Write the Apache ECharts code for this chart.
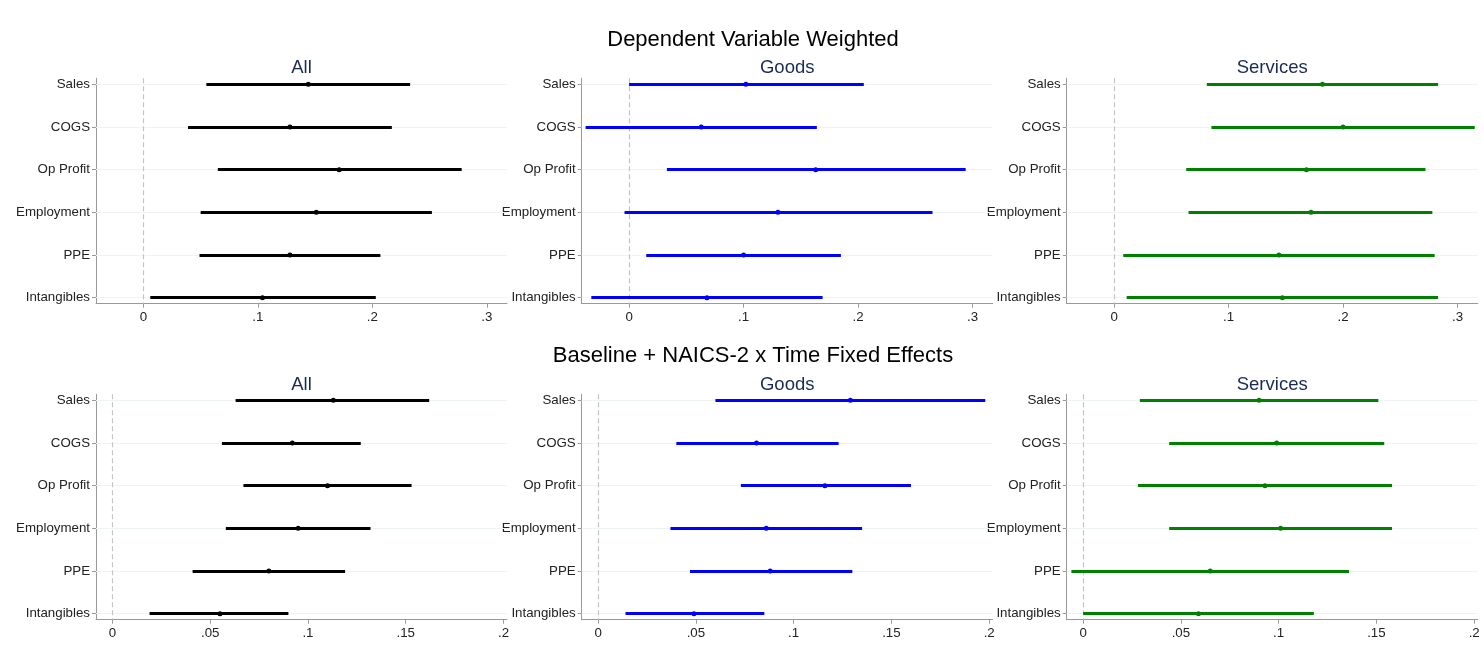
<!DOCTYPE html>
<html>
<head>
<meta charset="utf-8">
<title>coefficient plots</title>
<script src="https://cdn.jsdelivr.net/npm/echarts@6/dist/echarts.min.js"></script>
<style>
    html, body { margin: 0; padding: 0; background: #fff; }
    #chart { width: 1484px; height: 646px; }
</style>
</head>
<body>
<div id="chart"></div>
<script>
// outcome rows, top to bottom
var categories = ['Sales', 'COGS', 'Op Profit', 'Employment', 'PPE', 'Intangibles'];
var rowTitles = ['Dependent Variable Weighted', 'Baseline + NAICS-2 x Time Fixed Effects'];
var panelTitles = ['All', 'Goods', 'Services'];
var topTicks = [0, 0.1, 0.2, 0.3];
var bottomTicks = [0, 0.05, 0.1, 0.15, 0.2];

// row 1: dependent variable weighted
var wAllLo = [0.055, 0.039, 0.065, 0.050, 0.049, 0.006];
var wAllEst = [0.144, 0.128, 0.171, 0.151, 0.128, 0.104];
var wAllHi = [0.233, 0.217, 0.278, 0.252, 0.207, 0.203];

var wGoodsLo = [0.000, -0.038, 0.033, -0.004, 0.015, -0.033];
var wGoodsEst = [0.102, 0.063, 0.163, 0.130, 0.100, 0.068];
var wGoodsHi = [0.205, 0.164, 0.294, 0.265, 0.185, 0.169];

var wServLo = [0.081, 0.085, 0.063, 0.065, 0.008, 0.011];
var wServEst = [0.182, 0.200, 0.168, 0.172, 0.144, 0.147];
var wServHi = [0.283, 0.315, 0.272, 0.278, 0.280, 0.283];

// row 2: baseline + NAICS-2 x time fixed effects
var fAllLo = [0.063, 0.056, 0.067, 0.058, 0.041, 0.019];
var fAllEst = [0.113, 0.092, 0.110, 0.095, 0.080, 0.055];
var fAllHi = [0.162, 0.127, 0.153, 0.132, 0.119, 0.090];

var fGoodsLo = [0.060, 0.040, 0.073, 0.037, 0.047, 0.014];
var fGoodsEst = [0.129, 0.081, 0.116, 0.086, 0.088, 0.049];
var fGoodsHi = [0.198, 0.123, 0.160, 0.135, 0.130, 0.085];

var fServLo = [0.029, 0.044, 0.028, 0.044, -0.006, 0.000];
var fServEst = [0.090, 0.099, 0.093, 0.101, 0.065, 0.059];
var fServHi = [0.151, 0.154, 0.158, 0.158, 0.136, 0.118];

var colors = ['#000000', '#0000ff', '#008000'];
var font = 'Liberation Sans, Arial, sans-serif';

var panels = [
    {row: 0, col: 0, lo: wAllLo, est: wAllEst, hi: wAllHi},
    {row: 0, col: 1, lo: wGoodsLo, est: wGoodsEst, hi: wGoodsHi},
    {row: 0, col: 2, lo: wServLo, est: wServEst, hi: wServHi},
    {row: 1, col: 0, lo: fAllLo, est: fAllEst, hi: fAllHi},
    {row: 1, col: 1, lo: fGoodsLo, est: fGoodsEst, hi: fGoodsHi},
    {row: 1, col: 2, lo: fServLo, est: fServEst, hi: fServHi}
];

var gridLeft = [96, 581.7, 1066.7];
var gridTop = [78.3, 394.3];
var gridW = 411, gridH = 225.4;
var xRange = [[-0.0414, 0.3176], [-0.0084, 0.2018]];
var yRange = [0.859, 6.141];

function tickText(v) {
    if (v === 0) return '0';
    return String(v).replace(/^0/, '');
}

var option = {
    backgroundColor: '#fff',
    animation: false,
    title: [],
    grid: [],
    xAxis: [],
    yAxis: [],
    series: []
};

rowTitles.forEach(function (t, r) {
    option.title.push({
        text: t, left: 753, top: [28.5, 345][r], textAlign: 'center', padding: 0,
        textStyle: {fontFamily: font, fontSize: 22, fontWeight: 'normal', color: '#000'}
    });
});

panels.forEach(function (p, i) {
    var ticks = p.row === 0 ? topTicks : bottomTicks;
    var xr = xRange[p.row];
    option.title.push({
        text: panelTitles[p.col], left: gridLeft[p.col] + gridW / 2, top: [58.5, 375][p.row],
        textAlign: 'center', padding: 0,
        textStyle: {fontFamily: font, fontSize: 18.5, fontWeight: 'normal', color: '#1b2a55'}
    });
    option.grid.push({left: gridLeft[p.col], top: gridTop[p.row], width: gridW, height: gridH});
    option.xAxis.push({
        type: 'value', gridIndex: i, min: xr[0], max: xr[1],
        axisLine: {show: true, onZero: false, lineStyle: {color: '#999', width: 1}},
        axisTick: {show: true, length: 4, customValues: ticks, lineStyle: {color: '#999'}},
        axisLabel: {
            customValues: ticks, margin: 7, formatter: tickText,
            fontFamily: font, fontSize: 13.3, color: '#222'
        },
        splitLine: {show: false}
    });
    option.yAxis.push({
        type: 'value', gridIndex: i, min: yRange[0], max: yRange[1], inverse: true,
        axisLine: {show: true, onZero: false, lineStyle: {color: '#999', width: 1}},
        axisTick: {show: true, length: 4, customValues: [1, 2, 3, 4, 5, 6], lineStyle: {color: '#999'}},
        axisLabel: {
            customValues: [1, 2, 3, 4, 5, 6], margin: 6,
            formatter: function (v) { return categories[Math.round(v) - 1]; },
            fontFamily: font, fontSize: 13.3, color: '#222'
        },
        splitLine: {show: false}
    });

    var ci = [], pts = [], grid = [];
    categories.forEach(function (c, k) {
        ci.push({coords: [[p.lo[k], k + 1], [p.hi[k], k + 1]]});
        pts.push([p.est[k], k + 1]);
        grid.push({coords: [[xr[0], k + 1], [xr[1], k + 1]]});
    });

    // faint row gridlines
    option.series.push({
        type: 'lines', coordinateSystem: 'cartesian2d', xAxisIndex: i, yAxisIndex: i,
        z: 1, silent: true, data: grid, symbol: 'none',
        lineStyle: {color: '#eef3f3', width: 1, opacity: 1, curveness: 0}
    });
    // zero reference line
    option.series.push({
        type: 'lines', coordinateSystem: 'cartesian2d', xAxisIndex: i, yAxisIndex: i,
        z: 1, silent: true, data: [{coords: [[0, yRange[0]], [0, yRange[1]]]}], symbol: 'none',
        lineStyle: {color: '#c4c4c4', width: 1.2, opacity: 1, type: [5, 3], curveness: 0}
    });
    // confidence intervals
    option.series.push({
        type: 'lines', coordinateSystem: 'cartesian2d', xAxisIndex: i, yAxisIndex: i,
        z: 2, silent: true, data: ci, symbol: 'none',
        lineStyle: {color: colors[p.col], width: 3, opacity: 1, cap: 'butt', curveness: 0}
    });
    // point estimates
    option.series.push({
        type: 'scatter', xAxisIndex: i, yAxisIndex: i, z: 3, data: pts,
        symbol: 'circle', symbolSize: 5,
        itemStyle: {color: colors[p.col], opacity: 1, borderWidth: 0}
    });
});

var chart = echarts.init(document.getElementById('chart'));
chart.setOption(option);
</script>
</body>
</html>
